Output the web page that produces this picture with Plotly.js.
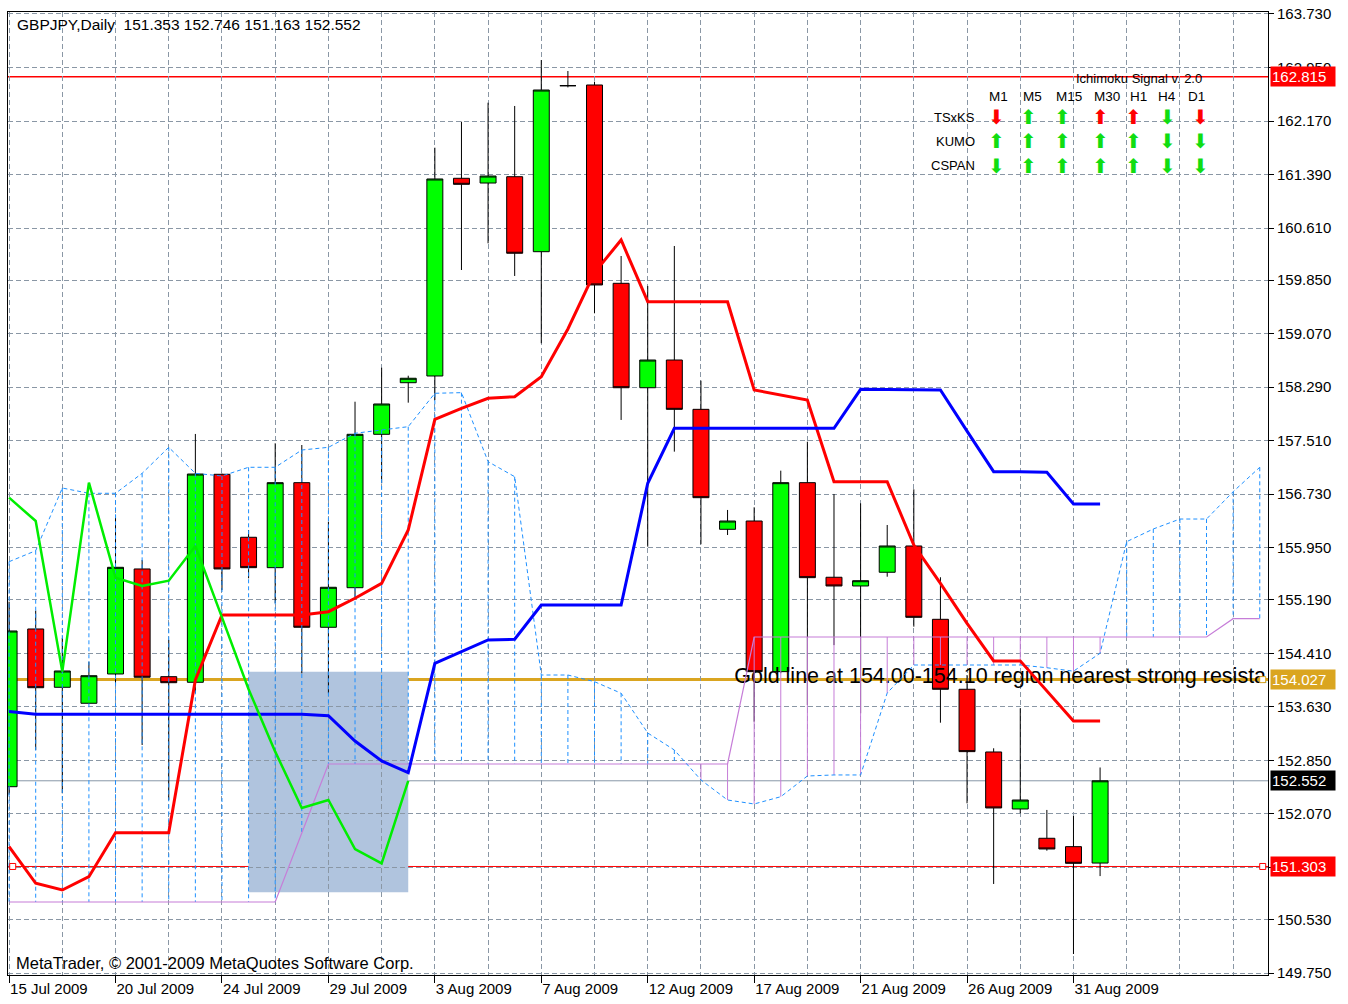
<!DOCTYPE html>
<html><head><meta charset="utf-8">
<script src="https://cdn.plot.ly/plotly-3.0.1.min.js"></script>
<style>html,body{margin:0;padding:0;background:#fff}#chart{width:1348px;height:1004px}</style>
</head><body><div id="chart"></div>
<script>
// ---------------- DATA ----------------
const dates = ['15 Jul 2009','16 Jul 2009','17 Jul 2009','19 Jul 2009','20 Jul 2009','21 Jul 2009','22 Jul 2009','23 Jul 2009','24 Jul 2009','26 Jul 2009','27 Jul 2009','28 Jul 2009','29 Jul 2009','30 Jul 2009','31 Jul 2009','2 Aug 2009','3 Aug 2009','4 Aug 2009','5 Aug 2009','6 Aug 2009','7 Aug 2009','9 Aug 2009','10 Aug 2009','11 Aug 2009','12 Aug 2009','13 Aug 2009','14 Aug 2009','16 Aug 2009','17 Aug 2009','18 Aug 2009','19 Aug 2009','20 Aug 2009','21 Aug 2009','23 Aug 2009','24 Aug 2009','25 Aug 2009','26 Aug 2009','27 Aug 2009','28 Aug 2009','30 Aug 2009','31 Aug 2009','1 Sep 2009'];
const labelBars = [0,4,8,12,16,20,24,28,32,36,40];

const openP  = [152.466,154.765,153.915,153.682,154.109,155.640,154.070,153.988,157.020,156.102,155.659,156.898,154.790,155.367,157.603,158.355,158.453,161.335,161.266,161.358,160.265,162.685,162.695,159.804,158.282,158.686,157.967,156.218,156.339,154.143,156.898,155.519,155.392,155.592,155.975,154.906,153.886,152.972,152.141,151.714,151.592,151.353];
const highP  = [155.163,155.032,154.634,154.288,156.427,155.771,154.605,157.608,157.030,156.208,157.472,157.447,156.329,158.078,158.574,158.457,161.781,162.160,162.437,162.389,163.059,162.899,162.743,160.202,159.765,160.348,158.385,156.500,156.539,157.073,157.495,156.733,156.597,156.281,156.801,155.519,154.094,153.026,153.609,152.127,152.039,152.746];
const lowP   = [152.350,153.001,152.370,153.670,153.948,153.074,152.272,153.828,155.333,155.504,155.140,154.119,153.828,155.213,156.889,158.064,158.103,159.998,160.387,159.911,158.930,162.660,159.367,157.812,155.965,157.350,156.000,156.135,153.414,154.120,153.657,154.530,153.536,155.527,154.799,153.399,152.224,151.048,152.078,151.533,150.027,151.163];
const closeP = [154.736,153.909,154.153,154.084,155.664,154.061,153.982,157.024,155.640,155.659,156.898,154.790,155.373,157.603,158.045,158.420,161.325,161.247,161.368,160.242,162.622,162.685,159.780,158.282,158.686,157.967,156.679,156.339,154.143,156.898,155.513,155.392,155.469,155.975,154.935,153.886,152.977,152.156,152.272,151.558,151.349,152.552];

const tenkan = [151.592,151.058,150.960,151.154,151.796,151.796,151.796,154.022,154.969,154.969,154.969,154.969,155.017,155.213,155.431,156.208,157.822,157.982,158.128,158.151,158.443,159.138,159.960,160.436,159.536,159.536,159.536,159.536,158.249,158.176,158.103,156.913,156.913,156.913,155.989,155.431,154.848,154.300,154.300,153.866,153.424,153.424];
const kijun  = [153.562,153.522,153.522,153.522,153.522,153.522,153.522,153.522,153.522,153.522,153.522,153.522,153.500,153.132,152.841,152.670,154.265,154.434,154.605,154.615,155.115,155.115,155.115,155.115,156.889,157.690,157.690,157.690,157.690,157.690,157.690,157.690,158.259,158.259,158.259,158.250,157.650,157.058,157.058,157.050,156.587,156.587];
const chikou = [156.679,156.339,154.143,156.898,155.513,155.392,155.469,155.975,154.935,153.886,152.977,152.156,152.272,151.558,151.349,152.552];
const spanA  = [155.746,155.906,156.820,156.743,156.743,157.034,157.413,157.034,156.995,157.122,157.122,157.374,157.413,157.618,157.666,157.714,158.201,158.210,157.204,156.985,154.094,154.094,153.997,153.828,153.249,153.001,152.564,152.272,152.214,152.320,152.622,152.637,152.637,153.832,154.240,154.240,154.240,154.240,154.240,154.200,154.150,154.411,156.038,156.223,156.368,156.368,156.766,157.122];
const spanB  = [150.785,150.785,150.785,150.785,150.785,150.785,150.785,150.785,150.785,150.785,150.785,151.790,152.797,152.797,152.797,152.797,152.797,152.797,152.797,152.797,152.797,152.797,152.797,152.797,152.797,152.797,152.797,152.797,154.648,154.648,154.648,154.648,154.648,154.648,154.648,154.648,154.648,154.648,154.648,154.648,154.648,154.648,154.648,154.648,154.648,154.648,154.915,154.915];

const priceTicks = [149.750,150.530,151.290,152.070,152.850,153.630,154.410,155.190,155.950,156.730,157.510,158.290,159.070,159.850,160.610,161.390,162.170,162.950,163.730];
const hiddenTicks = [151.290];

const bidPrice = 152.552;
const redLevelTop = 162.815;
const goldLevel = 154.027;
const redLevelLow = 151.303;
const rectBars = [9, 15];
const rectPrices = [154.143, 150.927];
const noteBar = [27.25];
const notePrice = [154.058];
const noteText = ['Gold line at 154.00-154.10 region nearest strong resista'];

const titleText = 'GBPJPY,Daily \u00a0151.353 152.746 151.163 152.552';
const copyText = 'MetaTrader, \u00a9 2001-2009 MetaQuotes Software Corp.';

const timeframes = ['M1','M5','M15','M30','H1','H4','D1'];
const signalRows = ['TSxKS','KUMO','CSPAN'];
const signalDir = [
  ['down','up','up','up','up','down','down'],
  ['up','up','up','up','up','down','down'],
  ['down','up','up','up','up','down','down']
];
const signalCol = [
  ['red','green','green','red','red','green','red'],
  ['green','green','green','green','green','green','green'],
  ['green','green','green','green','green','green','green']
];

// ---------------- LAYOUT HELPERS ----------------
const W = 1348, H = 1004, ML = 8, MR = 80, MT = 12, MB = 29;
const plotW = W - ML - MR, plotH = H - MT - MB;
const px = x => (x - ML) / plotW;
const py = y => 1 - (y - MT) / plotH;
const FONT = 'Liberation Sans, Arial, sans-serif';
const gridColor = '#8a97a5';
const plumColor = '#c67dd8';
const dodger = '#1e90ff';

const idx = dates.map((d, i) => i);
const idxAll = spanA.map((v, i) => i);

// cloud hatching
const hbX = [], hbY = [], hpX = [], hpY = [];
spanA.forEach((a, i) => {
  const b = spanB[i];
  if (a > b) { hbX.push(i, i, null); hbY.push(a, b, null); }
  else { hpX.push(i, i, null); hpY.push(a, b, null); }
});

const traces = [
  { type: 'scatter', mode: 'text', x: noteBar, y: notePrice, text: noteText,
    textposition: 'middle right', cliponaxis: true,
    textfont: { family: FONT, size: 21.5, color: '#000' }, hoverinfo: 'skip' },
  { type: 'scatter', mode: 'lines', x: hbX, y: hbY, line: { color: dodger, width: 1, dash: '4px,3px' }, hoverinfo: 'skip' },
  { type: 'scatter', mode: 'lines', x: hpX, y: hpY, line: { color: plumColor, width: 1 }, hoverinfo: 'skip' },
  { type: 'scatter', mode: 'lines', x: idxAll, y: spanB, line: { color: plumColor, width: 1.2 }, hoverinfo: 'skip' },
  { type: 'scatter', mode: 'lines', x: idxAll, y: spanA, line: { color: dodger, width: 1, dash: '4px,3px' }, hoverinfo: 'skip' },
  { type: 'scatter', mode: 'lines', x: idx, y: tenkan, line: { color: '#ff0000', width: 3 }, hoverinfo: 'skip' },
  { type: 'scatter', mode: 'lines', x: idx, y: kijun, line: { color: '#0000ff', width: 3 }, hoverinfo: 'skip' },
  { type: 'scatter', mode: 'lines', x: chikou.map((v, i) => i), y: chikou, line: { color: '#00ee00', width: 2.5 }, hoverinfo: 'skip' },
  { type: 'candlestick', x: idx, open: openP, high: highP, low: lowP, close: closeP,
    increasing: { line: { color: '#000', width: 1 }, fillcolor: '#00ff00' },
    decreasing: { line: { color: '#000', width: 1 }, fillcolor: '#ff0000' },
    whiskerwidth: 0, hoverinfo: 'skip' }
];

const shapes = [
  { type: 'rect', xref: 'x', yref: 'y', x0: rectBars[0], x1: rectBars[1], y0: rectPrices[1], y1: rectPrices[0],
    fillcolor: '#b0c4de', line: { width: 0 }, layer: 'below' },
  { type: 'line', xref: 'paper', x0: 0, x1: 1, yref: 'y', y0: bidPrice, y1: bidPrice, line: { color: '#8897a8', width: 1 }, layer: 'between' },
  { type: 'line', xref: 'paper', x0: 0, x1: 1, yref: 'y', y0: redLevelTop, y1: redLevelTop, line: { color: '#ff0000', width: 1.5 }, layer: 'between' },
  { type: 'line', xref: 'paper', x0: 0, x1: 1, yref: 'y', y0: goldLevel, y1: goldLevel, line: { color: '#daa520', width: 3 }, layer: 'between' },
  { type: 'line', xref: 'paper', x0: 0, x1: 1, yref: 'y', y0: redLevelLow, y1: redLevelLow, line: { color: '#ff0000', width: 1 }, layer: 'between' },
  { type: 'rect', xref: 'paper', xsizemode: 'pixel', xanchor: px(12.7), x0: -3, x1: 3,
    yref: 'y', ysizemode: 'pixel', yanchor: redLevelLow, y0: -3, y1: 3, fillcolor: '#fff', line: { color: '#ff0000', width: 1 }, layer: 'above' },
  { type: 'rect', xref: 'paper', xsizemode: 'pixel', xanchor: px(1262.7), x0: -3, x1: 3,
    yref: 'y', ysizemode: 'pixel', yanchor: redLevelLow, y0: -3, y1: 3, fillcolor: '#fff', line: { color: '#ff0000', width: 1 }, layer: 'above' },
  { type: 'rect', xref: 'paper', xsizemode: 'pixel', xanchor: px(1262.7), x0: -3, x1: 3,
    yref: 'y', ysizemode: 'pixel', yanchor: goldLevel, y0: -3, y1: 3, fillcolor: '#fff', line: { color: '#daa520', width: 1 }, layer: 'above' }
];

const annotations = [];
function priceLabel(val, bg) {
  annotations.push({ xref: 'paper', x: 1, xanchor: 'left', xshift: 2, yref: 'y', y: val, yanchor: 'middle',
    text: val.toFixed(3), showarrow: false, bgcolor: bg, borderpad: 1, width: 62, align: 'left',
    font: { family: FONT, size: 15, color: '#fff' } });
}
priceLabel(redLevelTop, '#ff0000');
priceLabel(goldLevel, '#daa520');
priceLabel(bidPrice, '#000000');
priceLabel(redLevelLow, '#ff0000');

annotations.push({ xref: 'paper', yref: 'paper', x: px(15), y: py(25), xanchor: 'left', yanchor: 'middle',
  text: titleText, showarrow: false, font: { family: FONT, size: 15.5, color: '#000' } });
annotations.push({ xref: 'paper', yref: 'paper', x: px(14), y: py(963), xanchor: 'left', yanchor: 'middle',
  text: copyText, showarrow: false, font: { family: FONT, size: 16.5, color: '#000' } });

// Ichimoku signal panel
annotations.push({ xref: 'paper', yref: 'paper', x: px(1139), y: py(79), xanchor: 'center', yanchor: 'middle',
  text: 'Ichimoku Signal v. 2.0', showarrow: false, font: { family: FONT, size: 13, color: '#000' } });
const headX = [998, 1032, 1069, 1107, 1138, 1167, 1196];
const arrowX = [996, 1028, 1062, 1100, 1133, 1167, 1200];
const rowY = [117, 141, 166];
timeframes.forEach((tf, j) => {
  annotations.push({ xref: 'paper', yref: 'paper', x: px(headX[j]), y: py(96), xanchor: 'center', yanchor: 'middle',
    text: tf, showarrow: false, font: { family: FONT, size: 13.5, color: '#000' } });
});
signalRows.forEach((r, k) => {
  annotations.push({ xref: 'paper', yref: 'paper', x: px(977), y: py(rowY[k]), xanchor: 'right', yanchor: 'middle',
    text: r, showarrow: false, font: { family: FONT, size: 13, color: '#000' } });
  timeframes.forEach((tf, j) => {
    annotations.push({ xref: 'paper', yref: 'paper', x: px(arrowX[j]), y: py(rowY[k]), xanchor: 'center', yanchor: 'middle',
      text: signalDir[k][j] === 'up' ? '\u2b06' : '\u2b07', showarrow: false,
      font: { family: 'DejaVu Sans', size: 20, color: signalCol[k][j] === 'red' ? '#ff0000' : '#11dd11' } });
  });
});

const layout = {
  width: W, height: H,
  margin: { l: ML, r: MR, t: MT, b: MB, pad: 0 },
  paper_bgcolor: '#ffffff', plot_bgcolor: '#ffffff',
  showlegend: false, hovermode: false,
  boxgap: 0.4, boxgroupgap: 0,
  xaxis: {
    range: [-0.041, 47.31], rangeslider: { visible: false },
    tickmode: 'array', tickvals: labelBars, ticktext: labelBars.map(i => dates[i]),
    ticks: 'outside', ticklen: 7, tickcolor: '#000', tickwidth: 1,
    ticklabelposition: 'outside right',
    tickfont: { family: FONT, size: 15, color: '#000' },
    showgrid: true, gridcolor: gridColor, gridwidth: 1, griddash: '5px,3px',
    minor: { tickmode: 'linear', tick0: 0, dtick: 2, showgrid: true, gridcolor: gridColor, gridwidth: 1, griddash: '5px,3px', ticks: '' },
    showline: true, linecolor: '#000', linewidth: 1, mirror: true, zeroline: false, fixedrange: true
  },
  yaxis: {
    side: 'right', range: [149.721, 163.759],
    tickmode: 'array', tickvals: priceTicks,
    ticktext: priceTicks.map(v => hiddenTicks.includes(v) ? '' : v.toFixed(3)),
    ticks: 'outside', ticklen: 5, tickcolor: '#000', tickwidth: 1,
    tickfont: { family: FONT, size: 15, color: '#000' },
    showgrid: true, gridcolor: gridColor, gridwidth: 1, griddash: '5px,3px',
    showline: true, linecolor: '#000', linewidth: 1, mirror: true, zeroline: false, fixedrange: true
  },
  shapes: shapes,
  annotations: annotations
};

Plotly.newPlot('chart', traces, layout, { displayModeBar: false, staticPlot: true });
</script>
</body></html>
